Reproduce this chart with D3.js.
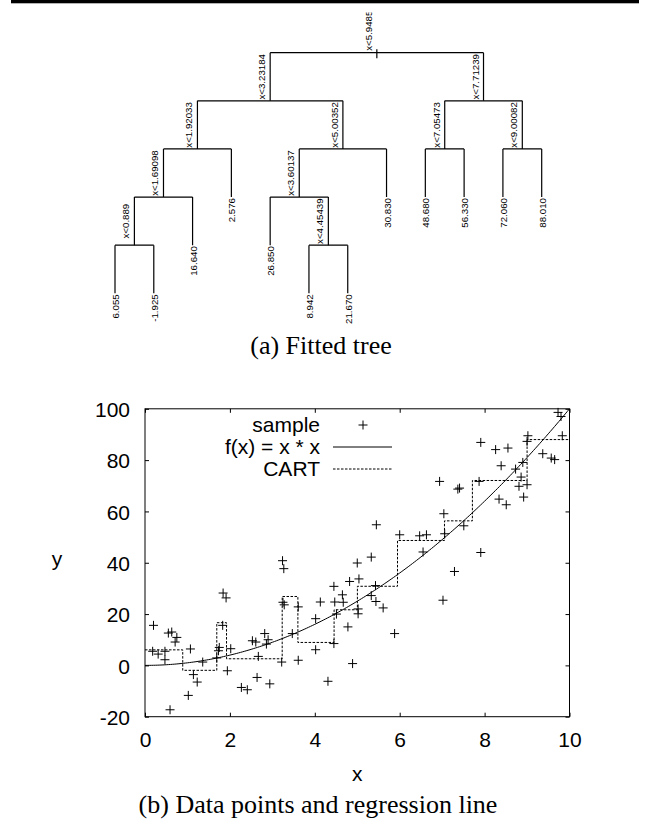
<!DOCTYPE html>
<html>
<head>
<meta charset="utf-8">
<script src="https://cdn.jsdelivr.net/npm/d3@7"></script>
<style>
body { margin: 0; background: #fff; }
text { font-family: "Liberation Sans", Arial, sans-serif; }
</style>
</head>
<body>
<script>
// tree nodes in preorder: id, parent, label
const nodeIds     = ['1', '2', '4', '8', '16', '32', '33', '17', '9', '5', '10', '20', '21', '42', '43', '11', '3', '6', '12', '13', '7', '14', '15'];
const nodeParents = ['', '1', '2', '4', '8', '16', '16', '8', '4', '2', '5', '10', '10', '21', '21', '5', '1', '3', '6', '6', '3', '7', '7'];
const nodeLabels  = ['x<5.9485', 'x<3.23184', 'x<1.92033', 'x<1.69098', 'x<0.889', '6.055', '-1.925', '16.640', '2.576',
                     'x<5.00352', 'x<3.60137', '26.850', 'x<4.45439', '8.942', '21.670', '30.830',
                     'x<7.71239', 'x<7.05473', '48.680', '56.330', 'x<9.00082', '72.060', '88.010'];

// CART step function (split points and leaf means)
const cartBreaks = [0, 0.889, 1.69098, 1.92033, 3.23184, 3.60137, 4.45439, 5.00352, 5.9485, 7.05473, 7.71239, 9.00082, 10];
const cartValues = [6.055, -1.925, 16.640, 2.576, 26.850, 8.942, 21.670, 30.830, 48.680, 56.330, 72.060, 88.010];

// sample points
const sampleX = [0.20, 0.18, 0.31, 0.47, 0.47, 0.55, 0.63, 0.75, 0.71, 0.59, 1.07, 1.02, 1.14, 1.23, 1.36, 1.69, 1.75, 1.73,
                 1.84, 1.91, 1.83, 1.94, 2.02, 2.27, 2.41, 2.64, 2.94, 2.53, 2.61, 2.67, 2.82, 2.90, 2.86, 3.24, 3.27, 3.25,
                 3.28, 3.22, 3.61, 3.47, 3.61, 4.02, 4.02, 4.13, 4.31, 4.45, 4.47, 4.45, 4.51, 4.65, 4.67, 4.78, 4.82, 4.89,
                 5.00, 5.04, 5.02, 5.02, 5.33, 5.45, 5.43, 5.33, 5.44, 5.61, 5.88, 6.00, 6.47, 6.63, 6.55,
                 9.73, 9.80, 9.83, 9.02, 9.00, 9.37, 9.57, 9.65, 7.91, 8.26, 8.55, 8.39, 8.90, 8.73, 8.86, 8.81, 9.00,
                 8.92, 7.87, 8.34, 8.51, 7.37, 7.41, 6.94, 7.04, 7.51, 7.06, 7.91, 7.29, 7.02];
const sampleY = [15.6, 5.5, 4.4, 5.5, 2.2, 12.6, 13.0, 10.9, 9.1, -17.3, 6.4, -11.7, -3.6, -6.5, 1.3, 2.9, 7.0, 5.7,
                 28.2, 26.3, 15.6, -2.1, 6.5, -8.6, -9.5, -4.7, -7.2, 9.6, 9.1, 3.5, 12.4, 10.0, 8.3, 40.8, 37.7, 24.6,
                 23.6, 1.3, 22.8, 12.4, 2.0, 18.2, 6.1, 24.7, -6.2, 30.8, 24.7, 8.5, 20.0, 27.5, 24.6, 15.0, 32.7, 0.7,
                 39.9, 33.7, 22.0, 20.1, 42.2, 54.8, 31.1, 27.2, 24.9, 22.4, 12.4, 50.9, 50.5, 50.9, 44.2,
                 98.6, 97.0, 89.5, 89.5, 87.3, 82.5, 80.8, 80.2, 86.9, 84.1, 84.7, 77.8, 79.1, 76.5, 73.4, 69.8, 70.4,
                 65.6, 71.7, 64.8, 62.6, 68.7, 69.1, 71.7, 59.1, 54.4, 51.3, 44.0, 36.6, 25.4];

const xTicks = [0, 2, 4, 6, 8, 10];
const yTicks = [-20, 0, 20, 40, 60, 80, 100];
const legendLabels = ['sample', 'f(x) = x * x', 'CART'];

const width = 647, height = 822;
const svg = d3.select('body').append('svg').attr('width', width).attr('height', height);

// top rule
svg.append('rect').attr('x', 11).attr('y', 0).attr('width', 628).attr('height', 3.3).attr('fill', '#000');

// ---------- (a) tree ----------
const table = nodeIds.map((id, i) => ({id: id, parent: nodeParents[i], label: nodeLabels[i]}));
const root = d3.stratify().id(d => d.id).parentId(d => d.parent)(table);

const leaves = root.leaves();
const leafX = d3.scaleLinear().domain([0, leaves.length - 1]).range([115, 541.7]);
leaves.forEach((d, i) => d.x = leafX(i));
root.eachAfter(d => { if (d.children) d.x = d3.mean(d.children, c => c.x); });
const depthY = d3.scaleLinear().domain([0, 5]).range([52.7, 293.3]);
root.each(d => d.y = depthY(d.depth));

svg.append('clipPath').attr('id', 'treeclip')
  .append('rect').attr('x', 0).attr('y', 12.5).attr('width', width).attr('height', 330);

const tg = svg.append('g').attr('clip-path', 'url(#treeclip)');

const segs = [];
root.each(d => {
  if (d.parent) segs.push(`M${d.x},${d.parent.y}V${d.y}`);
  if (d.children) segs.push(`M${d.children[0].x},${d.y}H${d.children[d.children.length - 1].x}`);
});
segs.push(`M${root.x},${root.y - 3.5}V${root.y + 5.5}`);

tg.selectAll('path.branch')
  .data(segs)
  .enter()
  .append('path')
  .attr('class', 'branch')
  .attr('d', d => d)
  .attr('fill', 'none')
  .attr('stroke', '#000')
  .attr('stroke-width', 1.2);

const internal = root.descendants().filter(d => d.children);
tg.selectAll('text.split')
  .data(internal)
  .enter()
  .append('text')
  .attr('class', 'split')
  .attr('transform', d => {
    const top = d.parent ? d.parent.y : d.y - 44;
    return `translate(${d.x - 5},${(top + d.y) / 2}) rotate(-90)`;
  })
  .attr('text-anchor', 'middle')
  .attr('font-size', 9.7)
  .attr('fill', '#000')
  .text(d => d.data.label);

tg.selectAll('text.leaf')
  .data(leaves)
  .enter()
  .append('text')
  .attr('class', 'leaf')
  .attr('transform', d => `translate(${d.x + 4},${d.y + 1}) rotate(-90)`)
  .attr('text-anchor', 'end')
  .attr('font-size', 9.7)
  .attr('fill', '#000')
  .text(d => d.data.label);

svg.append('text')
  .attr('x', 321).attr('y', 354)
  .attr('text-anchor', 'middle')
  .style('font-family', '"Liberation Serif", "Times New Roman", serif')
  .attr('font-size', 26)
  .text('(a) Fitted tree');

// ---------- (b) scatter ----------
const x = d3.scaleLinear().domain([0, 10]).range([145, 569.5]);
const y = d3.scaleLinear().domain([-20, 100]).range([716.7, 408.8]);

const axisFont = g => g.attr('font-size', 21).attr('font-family', '"Liberation Sans", Arial, sans-serif')
  .call(s => s.select('.domain').remove())
  .call(s => s.selectAll('line').attr('stroke', '#000'));

svg.append('g')
  .attr('transform', `translate(0,${y(-20)})`)
  .call(d3.axisBottom(x).tickValues(xTicks).tickSize(-4).tickPadding(15.5).tickFormat(d => String(d)))
  .call(axisFont);
svg.append('g')
  .attr('transform', `translate(0,${y(100)})`)
  .call(d3.axisTop(x).tickValues(xTicks).tickSize(-4).tickFormat(''))
  .call(axisFont);
svg.append('g')
  .attr('transform', `translate(${x(0)},0)`)
  .call(d3.axisLeft(y).tickValues(yTicks).tickSize(-4).tickPadding(15).tickFormat(d => String(d)))
  .call(axisFont)
  .call(g => g.selectAll('text').attr('dy', '0.37em'));
svg.append('g')
  .attr('transform', `translate(${x(10)},0)`)
  .call(d3.axisRight(y).tickValues(yTicks).tickSize(-4).tickFormat(''))
  .call(axisFont);

svg.append('rect')
  .attr('x', x(0)).attr('y', y(100))
  .attr('width', x(10) - x(0)).attr('height', y(-20) - y(100))
  .attr('fill', 'none').attr('stroke', '#000').attr('stroke-width', 1);

svg.append('text').attr('x', (x(0) + x(10)) / 2).attr('y', 781)
  .attr('text-anchor', 'middle').attr('font-size', 21).text('x');
svg.append('text').attr('x', 57).attr('y', 566)
  .attr('text-anchor', 'middle').attr('font-size', 21).text('y');

svg.append('clipPath').attr('id', 'plotclip')
  .append('rect').attr('x', x(0)).attr('y', y(100))
  .attr('width', x(10) - x(0)).attr('height', y(-20) - y(100));

const pg = svg.append('g').attr('clip-path', 'url(#plotclip)');

const curve = d3.range(0, 10.001, 0.05).map(v => [v, v * v]);
pg.append('path')
  .datum(curve)
  .attr('d', d3.line().x(d => x(d[0])).y(d => y(d[1])))
  .attr('fill', 'none').attr('stroke', '#000').attr('stroke-width', 1);

const cart = cartBreaks.map((b, i) => [b, cartValues[Math.min(i, cartValues.length - 1)]]);
pg.append('path')
  .datum(cart)
  .attr('d', d3.line().curve(d3.curveStepAfter).x(d => x(d[0])).y(d => y(d[1])))
  .attr('fill', 'none').attr('stroke', '#000').attr('stroke-width', 1)
  .attr('stroke-dasharray', '2.5,1.5');

const plus = 'M-4.5,0H4.5M0,-4.5V4.5';
svg.append('g').selectAll('path')
  .data(sampleX)
  .enter()
  .append('path')
  .attr('d', plus)
  .attr('transform', (d, i) => `translate(${x(d)},${y(sampleY[i])})`)
  .attr('stroke', '#000').attr('stroke-width', 1).attr('fill', 'none');

// legend
const lg = svg.append('g');
legendLabels.forEach((t, i) => {
  const cy = 425 + i * 22;
  lg.append('text').attr('x', 320).attr('y', cy + 7).attr('text-anchor', 'end')
    .attr('font-size', 21).text(t);
  if (i === 0) {
    lg.append('path').attr('d', plus).attr('transform', `translate(363,${cy})`)
      .attr('stroke', '#000').attr('fill', 'none');
  } else {
    lg.append('line').attr('x1', 333).attr('x2', 392).attr('y1', cy).attr('y2', cy)
      .attr('stroke', '#000').attr('stroke-width', 1)
      .attr('stroke-dasharray', i === 2 ? '2.5,1.5' : null);
  }
});

svg.append('text')
  .attr('x', 318).attr('y', 813)
  .attr('text-anchor', 'middle')
  .style('font-family', '"Liberation Serif", "Times New Roman", serif')
  .attr('font-size', 26)
  .text('(b) Data points and regression line');
</script>
</body>
</html>
